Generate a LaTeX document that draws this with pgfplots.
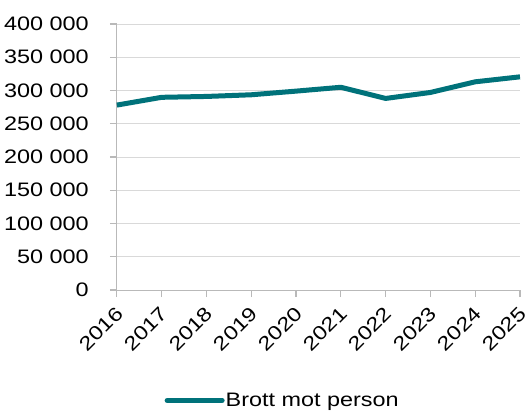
\documentclass[border=0pt]{standalone}
\usepackage{fontspec}
\setmainfont{Liberation Sans}[FakeStretch=1.2]
\usepackage{pgfplots}
\pgfplotsset{compat=1.18}
\definecolor{teal1}{RGB}{0,114,122}
\definecolor{gridg}{RGB}{217,217,217}
\definecolor{axg}{RGB}{185,185,185}

\begin{document}
\begin{tikzpicture}
\begin{axis}[
  scale only axis,
  width=403pt, height=266pt,
  xmin=2016, xmax=2025,
  ymin=0, ymax=400000,
  xtick={2016,...,2025},
  xticklabels={2016,2017,2018,2019,2020,2021,2022,2023,2024,2025},
  ytick={0,50000,100000,150000,200000,250000,300000,350000,400000},
  yticklabels={0,50 000,100 000,150 000,200 000,250 000,300 000,350 000,400 000},
  % shifts act in the rotated frame
  xticklabel style={rotate=45, anchor=east, inner sep=0pt, xshift=-7.5pt, yshift=-11.5pt,
    font=\fontsize{19.5}{21}\selectfont},
  yticklabel style={font=\fontsize{19.5}{21}\selectfont, inner sep=0pt, xshift=-21pt},
  scaled y ticks=false,
  axis x line*=bottom,
  axis y line*=left,
  axis line style={axg, line width=1pt},
  ymajorgrids,
  grid style={gridg, line width=0.8pt},
  xtick align=outside,
  ytick align=outside,
  major tick length=7pt,
  every tick/.style={draw=axg, line width=1.2pt},
  legend style={at={(0.41,-0.415)}, anchor=center, draw=none, fill=none,
    font=\fontsize{19.5}{21}\selectfont, legend columns=1, inner sep=0pt,
    nodes={inner sep=1pt}},
  legend image code/.code={\draw[#1, line cap=round] (0pt,0pt) -- (55pt,0pt);},
  clip=false,
]
\addplot[teal1, line width=5pt, line join=round] coordinates {
  (2016,278000) (2017,289700) (2018,291000) (2019,293500) (2020,299000)
  (2021,304800) (2022,288000) (2023,297000) (2024,313000) (2025,320500)
};
\addlegendentry{Brott mot person}
\coordinate (bl) at (rel axis cs:-0.29,-0.451);
\coordinate (tr) at (rel axis cs:1.0124,1.09);
\end{axis}
\pgfresetboundingbox
\path (bl) rectangle (tr);
\end{tikzpicture}
\end{document}
